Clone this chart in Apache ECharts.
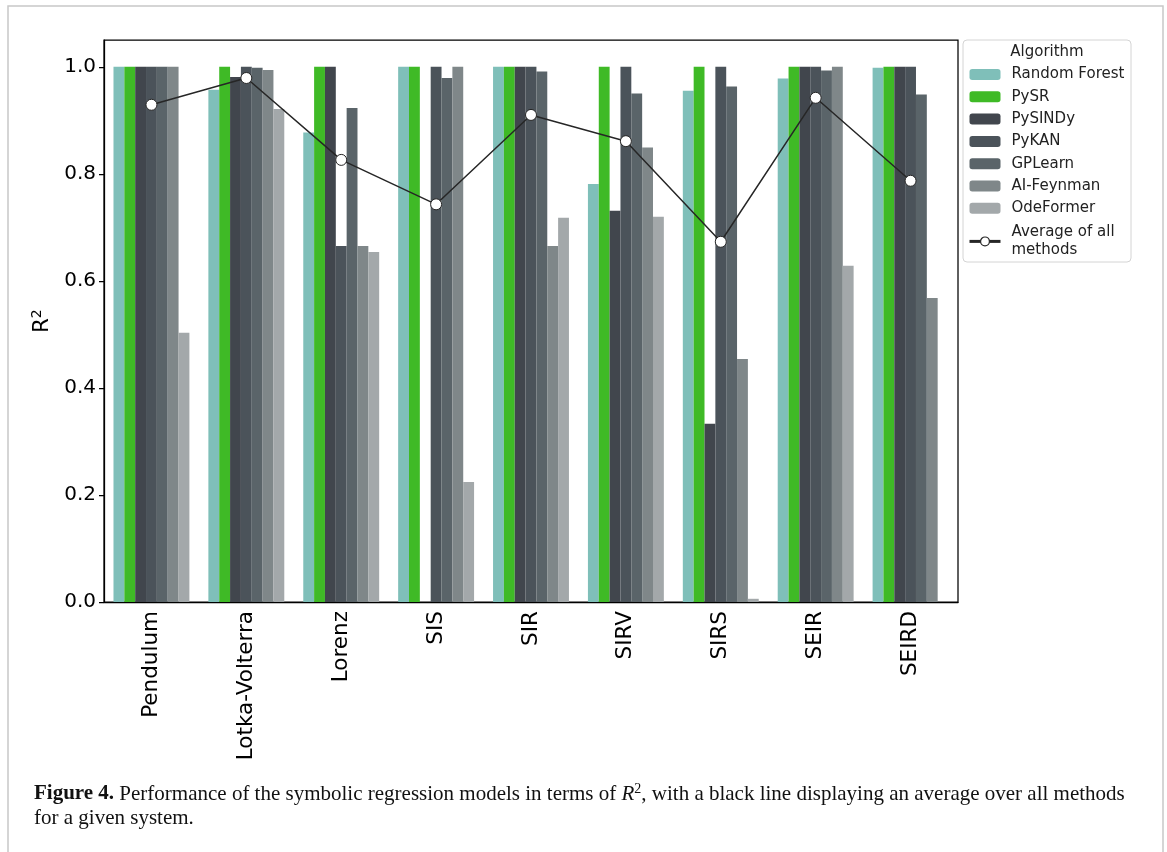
<!DOCTYPE html>
<html>
<head>
<meta charset="utf-8">
<script src="https://cdn.jsdelivr.net/npm/echarts@6/dist/echarts.min.js"></script>
<style>html,body{margin:0;padding:0;background:#fff}#c{width:1167px;height:852px}</style>
</head>
<body>
<div id="c"></div>
<script>
const categories = ['Pendulum','Lotka-Volterra','Lorenz','SIS','SIR','SIRV','SIRS','SEIR','SEIRD'];
const randomForest = [1.000,0.957,0.877,1.000,1.000,0.781,0.955,0.978,0.998];
const pySR        = [1.000,1.000,1.000,1.000,1.000,1.000,1.000,1.000,1.000];
const pySINDy     = [1.000,0.981,1.000,0.000,1.000,0.731,0.333,1.000,1.000];
const pyKAN       = [1.000,1.000,0.665,1.000,1.000,1.000,1.000,1.000,1.000];
const gpLearn     = [1.000,0.998,0.923,0.979,0.991,0.950,0.963,0.993,0.948];
const aiFeynman   = [1.000,0.994,0.665,1.000,0.665,0.849,0.454,1.000,0.568];
const odeFormer   = [0.503,0.921,0.654,0.224,0.718,0.720,0.006,0.628,0.000];
const average     = [0.929,0.979,0.826,0.743,0.910,0.861,0.673,0.942,0.787];
const yTicks = [0,0.2,0.4,0.6,0.8,1.0];

const barSeries = [
  ['Random Forest', randomForest, '#7fbfb9'],
  ['PySR', pySR, '#3fba26'],
  ['PySINDy', pySINDy, '#41464d'],
  ['PyKAN', pyKAN, '#4b535a'],
  ['GPLearn', gpLearn, '#5a6469'],
  ['AI-Feynman', aiFeynman, '#7f8789'],
  ['OdeFormer', odeFormer, '#a3a8aa']
];
const AVG = 'Average of all methods';
const FONT = 'DejaVu Sans';
const chart = echarts.init(document.getElementById('c'), null, {renderer:'canvas'});
const series = barSeries.map(([name, data, color]) => ({
  name, type:'bar', data, barGap:'0%', barCategoryGap:'20%',
  itemStyle:{color}, emphasis:{disabled:true}, z:2
}));
series.push({
  name:AVG, type:'line', data:average,
  symbol:'circle', symbolSize:11,
  lineStyle:{color:'#262626', width:1.5},
  itemStyle:{color:'#ffffff', borderColor:'#262626', borderWidth:1},
  emphasis:{disabled:true}, z:5
});
const legendData = barSeries.map(s=>({name:s[0]}));
legendData.push({name:AVG, lineStyle:{width:3, color:'#262626'}, itemStyle:{color:'#fff', borderColor:'#262626', borderWidth:1.2}, textStyle:{lineHeight:18.3}});
chart.setOption({
  animation:false,
  backgroundColor:'#fff',
  grid:{left:104, right:209, top:40, bottom:250, show:true, borderColor:'#000', borderWidth:1.25, backgroundColor:'transparent'},
  xAxis:{
    type:'category', data:categories,
    axisLine:{lineStyle:{color:'#000', width:1.25}},
    axisTick:{alignWithLabel:true, length:5, lineStyle:{color:'#000', width:1.25}},
    axisLabel:{rotate:90, fontFamily:FONT, fontSize:21.5, color:'#000', margin:9, interval:0}
  },
  yAxis:{
    type:'value', min:0, max:1.05,
    splitLine:{show:false},
    axisLine:{show:true, lineStyle:{color:'#000', width:1.25}},
    axisTick:{show:true, length:5, customValues:yTicks, lineStyle:{color:'#000', width:1.25}},
    axisLabel:{customValues:yTicks, fontFamily:FONT, fontSize:20, color:'#000', margin:8, formatter:v=>v.toFixed(1)},
    name:'R{sup|2}', nameLocation:'middle', nameGap:44, nameRotate:90,
    nameTextStyle:{fontFamily:FONT, fontSize:21, color:'#000', rich:{sup:{fontFamily:FONT, fontSize:14, padding:[0,0,11,0], color:'#000'}}}
  },
  legend:{
    orient:'vertical', left:968, top:67, padding:0,
    itemWidth:31, itemHeight:11, itemGap:7.3,
    data:legendData,
    formatter:n=> n===AVG ? 'Average of all\nmethods' : n,
    textStyle:{fontFamily:FONT, fontSize:15, color:'#222', lineHeight:15, padding:[0,0,0,6]},
    selectedMode:false
  },
  graphic:[
    {type:'rect', shape:{x:8, y:6, width:1155, height:870}, style:{fill:'none', stroke:'#c8c8c8', lineWidth:1.5}, z:-10, silent:true},
    {type:'rect', shape:{x:963, y:40, width:168, height:222, r:4}, style:{fill:'#fff', stroke:'#d4d4d4', lineWidth:1}, z:-5, silent:true},
    {type:'text', x:1047, y:52, style:{text:'Algorithm', fontFamily:FONT, fontSize:15, fill:'#222', textAlign:'center', textVerticalAlign:'middle'}, silent:true},
    {type:'text', x:34, y:782, style:{
      text:'{b|Figure 4.} Performance of the symbolic regression models in terms of {i|R}{s|2}, with a black line displaying an average over all methods\nfor a given system.',
      fontFamily:'Liberation Serif', fontSize:21, fill:'#111', lineHeight:24,
      rich:{
        b:{fontFamily:'Liberation Serif', fontSize:21, fontWeight:'bold', fill:'#111', lineHeight:24},
        i:{fontFamily:'Liberation Serif', fontSize:21, fontStyle:'italic', fill:'#111', lineHeight:24},
        s:{fontFamily:'Liberation Serif', fontSize:14, fill:'#111', padding:[0,0,10,0], lineHeight:24}
      }
    }, silent:true}
  ],
  series
});
</script>
</body>
</html>
